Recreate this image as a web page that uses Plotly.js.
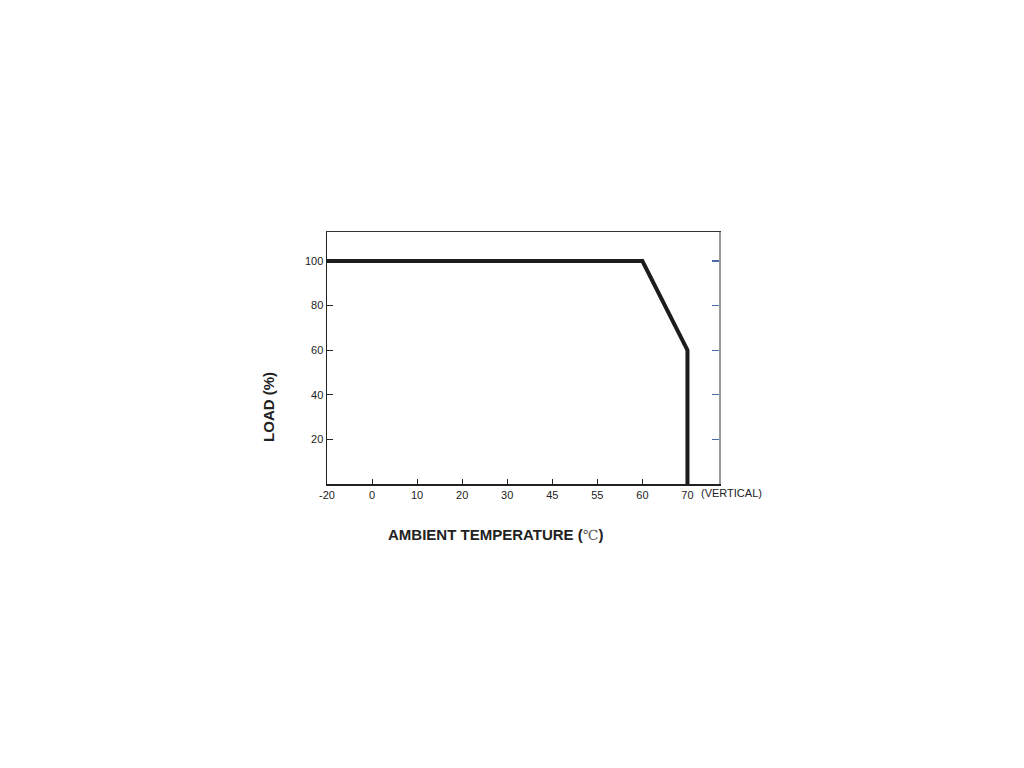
<!DOCTYPE html>
<html>
<head>
<meta charset="utf-8">
<script src="https://cdn.plot.ly/plotly-3.0.1.min.js"></script>
<style>html,body{margin:0;padding:0;background:#fff;}#chart{width:1024px;height:768px;}</style>
</head>
<body>
<div id="chart"></div>
<script>
// Tick categories on the temperature axis (evenly spaced in the original)
var tempCategories = ["-20", "0", "10", "20", "30", "45", "55", "60", "70"];
// Derating curve
var curveTemp = ["-20", "60", "70", "70"];
var curveLoad = [100, 100, 60, 0];
// Y ticks
var loadTicks = [20, 40, 60, 80, 100];

var FONT = "Liberation Sans, Arial, sans-serif";

var trace = {
  x: curveTemp,
  y: curveLoad,
  type: "scatter",
  mode: "lines",
  line: {color: "#1c1c1c", width: 4},
  hoverinfo: "skip",
  showlegend: false
};

// invisible companion trace so the frame axes (top / right) are drawn
var frameTrace = {
  x: curveTemp,
  y: curveLoad,
  xaxis: "x2",
  yaxis: "y2",
  type: "scatter",
  mode: "lines",
  opacity: 0,
  line: {width: 0},
  hoverinfo: "skip",
  showlegend: false
};

var layout = {
  width: 1024,
  height: 768,
  paper_bgcolor: "#ffffff",
  plot_bgcolor: "#ffffff",
  margin: {l: 327, r: 305, t: 232, b: 284},
  showlegend: false,
  font: {family: FONT, size: 11, color: "#222"},
  xaxis: {
    type: "category",
    categoryorder: "array",
    categoryarray: tempCategories,
    tickvals: tempCategories,
    range: [0, 8.7],
    showgrid: false,
    zeroline: false,
    showline: true,
    linecolor: "#222",
    linewidth: 1.5,
    ticks: "inside",
    ticklen: 5,
    tickcolor: "#222",
    tickfont: {family: FONT, size: 11, color: "#222"}
  },
  xaxis2: {
    type: "category",
    categoryorder: "array",
    categoryarray: tempCategories,
    overlaying: "x",
    side: "top",
    range: [0, 8.7],
    showline: true,
    linecolor: "#333",
    linewidth: 1.5,
    showticklabels: false,
    ticks: "",
    showgrid: false,
    zeroline: false
  },
  yaxis: {
    range: [0, 113],
    tickvals: loadTicks,
    showgrid: false,
    zeroline: false,
    showline: true,
    linecolor: "#222",
    linewidth: 1.5,
    ticks: "inside",
    ticklen: 6,
    tickcolor: "#222",
    tickfont: {family: FONT, size: 11, color: "#222"}
  },
  yaxis2: {
    overlaying: "y",
    side: "right",
    range: [0, 113],
    tickvals: loadTicks,
    showline: true,
    linecolor: "#999",
    linewidth: 1.5,
    ticks: "inside",
    ticklen: 7,
    tickwidth: 1.2,
    tickcolor: "#4a6aa8",
    showticklabels: false,
    showgrid: false,
    zeroline: false
  },
  annotations: [
    {
      text: "AMBIENT TEMPERATURE (<span style='font-family:DejaVu Serif;font-weight:normal;font-size:14px;color:#555'>℃</span>)",
      xref: "paper", yref: "paper",
      x: 0.43, y: -0.202, xanchor: "center", yanchor: "middle",
      showarrow: false,
      font: {family: FONT, size: 15, color: "#222", weight: "bold"}
    },
    {
      text: "LOAD (%)",
      xref: "paper", yref: "paper",
      x: -0.151, y: 0.305, xanchor: "center", yanchor: "middle",
      textangle: -90,
      showarrow: false,
      font: {family: FONT, size: 15, color: "#222", weight: "bold"}
    },
    {
      text: "(VERTICAL)",
      xref: "paper", yref: "paper",
      x: 0.95, y: -0.036, xanchor: "left", yanchor: "middle",
      showarrow: false,
      font: {family: FONT, size: 11, color: "#222"}
    }
  ]
};

Plotly.newPlot("chart", [trace, frameTrace], layout, {displayModeBar: false, staticPlot: true});
</script>
</body>
</html>
